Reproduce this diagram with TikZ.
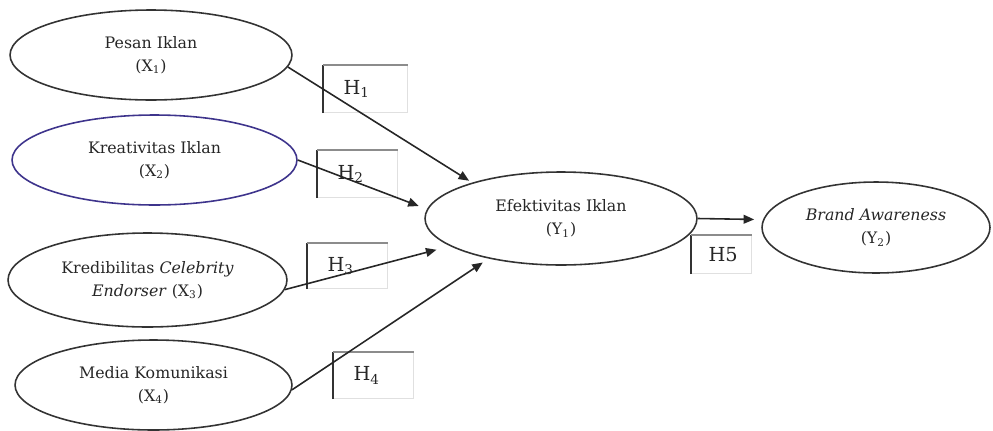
\documentclass[tikz,border=0pt]{standalone}
\usepackage{fontspec}
\setmainfont{DejaVu Serif}
\usetikzlibrary{arrows.meta, shapes.geometric}

\definecolor{ovalblue}{RGB}{62,52,140}

\begin{document}
\begin{tikzpicture}[
    x=0.02cm, y=-0.02cm,
    font=\fontsize{9}{13}\selectfont,
    var/.style={ellipse, draw=#1, line width=0.9pt, inner sep=0pt,
                align=center, text=black!85},
    var/.default=black!80,
    hyp/.style={rectangle, draw=black!12, line width=0.6pt, anchor=north west,
                font=\fontsize{11}{13}\selectfont, text=black!85,
                text width=#1, align=left, inner xsep=0.4cm, inner ysep=0pt},
    hleft/.style={black!80, line width=0.9pt},
    htop/.style={black!45, line width=0.8pt},
    arr/.style={-{Triangle[length=6pt, width=5pt]}, line width=0.9pt, black!85}
  ]
  \useasboundingbox (0,0) rectangle (993,430);

  % variables
  \node[var, minimum width=5.64cm, minimum height=1.8cm]  (x1) at (151,55)
    {Pesan Iklan\\(X\textsubscript{1})};
  \node[var=ovalblue, minimum width=5.7cm, minimum height=1.8cm] (x2) at (154.5,160)
    {Kreativitas Iklan\\(X\textsubscript{2})};
  \node[var, minimum width=5.58cm, minimum height=1.88cm] (x3) at (147.5,280)
    {Kredibilitas \textit{Celebrity}\\\textit{Endorser} (X\textsubscript{3})};
  \node[var, minimum width=5.54cm, minimum height=1.8cm]  (x4) at (153.5,385)
    {Media Komunikasi\\(X\textsubscript{4})};
  \node[var, minimum width=5.44cm, minimum height=1.86cm] (y1) at (561,218.5)
    {Efektivitas Iklan\\(Y\textsubscript{1})};
  \node[var, minimum width=4.56cm, minimum height=1.82cm] (y2) at (876,227.5)
    {\textit{Brand Awareness}\\(Y\textsubscript{2})};

  % hypotheses
  \node[hyp=0.88cm, minimum height=0.94cm] (h1) at (323,65)  {H\textsubscript{1}};
  \node[hyp=0.8cm,  minimum height=0.94cm] (h2) at (317,150) {H\textsubscript{2}};
  \node[hyp=0.8cm,  minimum height=0.9cm]  (h3) at (307,243) {H\textsubscript{3}};
  \node[hyp=0.8cm,  minimum height=0.92cm] (h4) at (333,352) {H\textsubscript{4}};
  \node[hyp=0.52cm, minimum height=0.76cm, inner xsep=0.34cm] (h5) at (691,235) {H5};

  \foreach \h in {h1,h2,h3,h4,h5} {
    \draw[hleft] (\h.south west) -- (\h.north west);
    \draw[htop]  (\h.north west) -- (\h.north east);
  }

  \foreach \a/\b/\s in {x1.-5/y1.158/2pt, x2.east/y1.176/5pt,
                        x3.-4/y1.194/8pt, x4.-2/y1.209/4pt,
                        y1.east/y2.176/5pt}
    \draw[arr, shorten >=\s] (\a) -- (\b);

\end{tikzpicture}
\end{document}
